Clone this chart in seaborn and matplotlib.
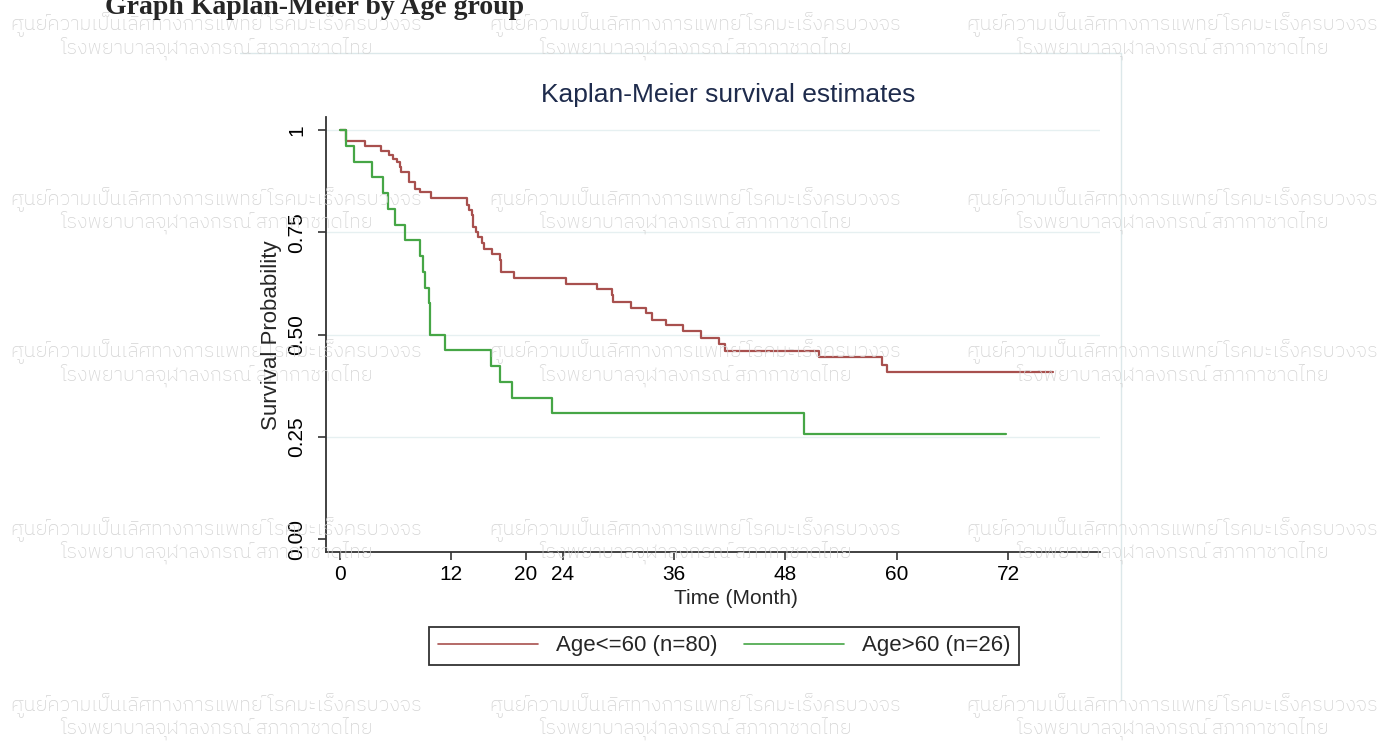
import seaborn as sns
import pandas as pd
import matplotlib.pyplot as plt
import matplotlib.font_manager as fm
from matplotlib.ft2font import FT2Font
from matplotlib.lines import Line2D

# survival data (time in months, survival after each drop)
young_time = [0, 0.65, 2.66, 4.42, 5.32, 5.75, 6.18, 6.47, 6.6, 7.40, 8.05, 8.62, 9.77,
              13.7, 13.9, 14.2, 14.3, 14.66, 14.9, 15.27, 15.5, 16.35, 17.2, 17.4, 18.75,
              24.3, 27.7, 29.3, 29.4, 31.4, 33.0, 33.6, 35.1, 37.0, 38.9, 40.8, 41.5,
              51.6, 58.4, 58.9, 76.8]
young_surv = [1, 0.974, 0.962, 0.950, 0.940, 0.930, 0.922, 0.910, 0.898, 0.873, 0.857, 0.849, 0.835,
              0.817, 0.804, 0.792, 0.764, 0.751, 0.738, 0.725, 0.709, 0.697, 0.682, 0.654, 0.639,
              0.625, 0.612, 0.597, 0.580, 0.566, 0.554, 0.537, 0.523, 0.509, 0.493, 0.477, 0.460,
              0.445, 0.425, 0.409, 0.409]
old_time = [0, 0.6, 1.55, 3.4, 4.67, 5.2, 5.93, 7.0, 8.62, 8.9, 9.16, 9.6, 9.7, 11.3,
            16.3, 17.2, 18.5, 22.8, 50.0, 71.8]
old_surv = [1, 0.962, 0.923, 0.885, 0.846, 0.808, 0.769, 0.731, 0.692, 0.654, 0.615, 0.577, 0.5, 0.462,
            0.423, 0.385, 0.346, 0.308, 0.257, 0.257]

groups = ['Age<=60 (n=80)', 'Age>60 (n=26)']
colors = ['#A8504E', '#46A646']
x_ticks = [0, 12, 20, 24, 36, 48, 60, 72]
y_ticks = [0, 0.25, 0.5, 0.75, 1]
y_tick_labels = ['0.00', '0.25', '0.50', '0.75', '1']

wm_line1 = 'ศูนย์ความเป็นเลิศทางการแพทย์ โรคมะเร็งครบวงจร'
wm_line2 = 'โรงพยาบาลจุฬาลงกรณ์ สภากาชาดไทย'

df = pd.concat([
    pd.DataFrame({'time': young_time, 'surv': young_surv, 'group': groups[0]}),
    pd.DataFrame({'time': old_time, 'surv': old_surv, 'group': groups[1]}),
])

sns.set_style('white')
plt.rcParams['font.family'] = ['Liberation Sans', 'DejaVu Sans']

# look for a proportional font that has Thai glyphs for the watermark
cands = []
for path in fm.findSystemFonts():
    try:
        f = FT2Font(path)
        if 0x0E28 in f.get_charmap():
            name = (f.family_name + ' ' + f.style_name).lower()
            score = 0
            if 'mono' in name or 'mono' in path.lower():
                score += 10
            if 'bold' in name or 'italic' in name or 'oblique' in name:
                score += 5
            if 'sans' not in name:
                score += 1
            cands.append((score, path))
    except Exception:
        pass
cands.sort()
thai_prop = fm.FontProperties(fname=cands[0][1]) if cands else None

W, H = 1394, 744
fig = plt.figure(figsize=(W / 100, H / 100), dpi=100)

def fx(px):
    return px / W

def fy(py):
    return 1 - py / H

# watermark
wm_rows = [(25, 48), (200, 222), (352, 375), (530, 552), (706, 728)]
wm_cols = [216, 695, 1172]
for r1, r2 in wm_rows:
    for cx in wm_cols:
        for txt, ry in ((wm_line1, r1), (wm_line2, r2)):
            kw = dict(fontproperties=thai_prop) if thai_prop else {}
            t = fig.text(fx(cx), fy(ry), txt, ha='center', va='center', color='#D4D4D4', zorder=0, **kw)
            t.set_fontsize(14.5)

# faint graph region border
fig.add_artist(Line2D([fx(240), fx(1121)], [fy(53), fy(53)], color='#DCE8EA', lw=1, zorder=0))
fig.add_artist(Line2D([fx(1121), fx(1121)], [fy(53), fy(700)], color='#DCE8EA', lw=1, zorder=0))

ax = fig.add_axes([fx(326), fy(552), fx(1100) - fx(326), fy(117) - fy(552)])
ax.set_facecolor('none')

sns.lineplot(data=df, x='time', y='surv', hue='group', palette=colors, estimator=None,
             drawstyle='steps-post', linewidth=1.6, legend=False, ax=ax, zorder=3)

ax.set_xlim(-1.51, 81.9)
ax.set_ylim(-0.031, 1.032)
ax.set_xticks(x_ticks)
ax.set_yticks(y_ticks)
ax.set_yticklabels(y_tick_labels)
ax.set_xlabel('')
ax.set_ylabel('')
for g in y_ticks[1:]:
    ax.axhline(g, color='#E6F0F1', lw=1, zorder=1)

sns.despine(ax=ax)
for side in ('left', 'bottom'):
    ax.spines[side].set_color('#333333')
    ax.spines[side].set_linewidth(1.3)
ax.tick_params(axis='both', direction='out', length=6, width=1.2, color='#333333',
               labelsize=15, labelcolor='black', left=True, bottom=True)
ax.tick_params(axis='x', pad=3)
ax.tick_params(axis='y', pad=8)
for lab in ax.get_yticklabels():
    lab.set_rotation(90)
    lab.set_va('center')
    lab.set_ha('right')

fig.text(fx(105), fy(14), 'Graph Kaplan-Meier by Age group', family='Liberation Serif',
         weight='bold', size=20, va='baseline', ha='left')
fig.text(fx(728), fy(95), 'Kaplan-Meier survival estimates', color='#1E2B4C', size=19,
         ha='center', va='center')
fig.text(fx(272), fy(335), 'Survival Probability', rotation=90, size=16, ha='center', va='center')
fig.text(fx(736), fy(598), 'Time (Month)', size=15, ha='center', va='center')

handles = [Line2D([], [], color=c, lw=1.2) for c in colors]
leg = fig.legend(handles, groups, loc='center', bbox_to_anchor=(fx(724), fy(646)), ncol=2,
                 frameon=True, fancybox=False, edgecolor='black', fontsize=16,
                 handlelength=4.5, handletextpad=0.8, columnspacing=1.2, borderpad=0.4)
leg.get_frame().set_linewidth(1.3)

fig.savefig('out.png', dpi=100)
